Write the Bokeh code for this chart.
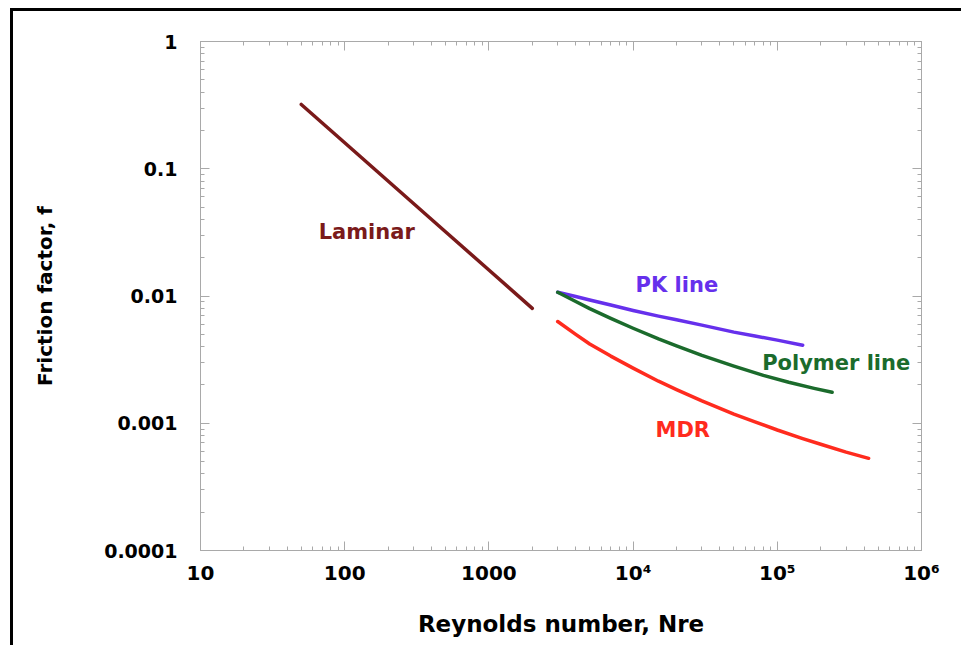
from bokeh.plotting import figure
from bokeh.models import LogAxis, FixedTicker, ColumnDataSource
from bokeh.core.properties import value
from bokeh.embed import file_html
from bokeh.resources import INLINE

# ---- data ----
laminar_re = [50, 100, 500, 1000, 2000]
laminar_f = [0.32, 0.16, 0.032, 0.016, 0.008]

pk_re = [3000, 4000, 5000, 7000, 10000, 15000, 20000, 30000, 50000, 70000, 100000, 150000]
pk_f = [0.0107, 0.0099, 0.0093, 0.0085, 0.0077, 0.00695, 0.0065, 0.0059, 0.0052, 0.00485, 0.0045, 0.0041]

polymer_re = [3000, 4000, 5000, 7000, 10000, 15000, 20000, 30000, 50000, 80000, 120000, 180000, 240000]
polymer_f = [0.0107, 0.00905, 0.00795, 0.00668, 0.00558, 0.0046, 0.00405, 0.00341, 0.00281, 0.00238, 0.0021, 0.00188, 0.00175]

mdr_re = [3000, 4000, 5000, 7000, 10000, 15000, 20000, 30000, 50000, 70000, 100000, 150000, 200000, 300000, 430000]
mdr_f = [0.0063, 0.0050, 0.0042, 0.00337, 0.00271, 0.00214, 0.00184, 0.0015, 0.00118, 0.001025, 0.000885, 0.000758, 0.000684, 0.000593, 0.00053]

label_names = ["Laminar", "PK line", "Polymer line", "MDR"]
label_re = [66, 10400, 78500, 14300]
label_f = [0.0316, 0.0123, 0.00297, 0.000893]

x_major = [10, 100, 1000, 10000, 100000, 1000000]
x_tick_labels = ["10", "100", "1000", "10\u2074", "10\u2075", "10\u2076"]
y_major = [0.0001, 0.001, 0.01, 0.1, 1]
y_tick_labels = ["0.0001", "0.001", "0.01", "0.1", "1"]

x_minor = [m * d for d in [10, 100, 1000, 10000, 100000] for m in range(2, 10)]
y_minor = [m * d for d in [0.0001, 0.001, 0.01, 0.1] for m in range(2, 10)]

# ---- style ----
FONT = "DejaVu Sans"
AX_GRAY = "#a9a9a9"
C_LAM = "#7a1a1a"
C_PK = "#6630ec"
C_POLY = "#1b6b2c"
C_MDR = "#ff2b1e"

W, H = 951, 637
p = figure(width=W, height=H, x_axis_type="log", y_axis_type="log",
           x_range=(10, 1e6), y_range=(1e-4, 1),
           output_backend="svg", toolbar_location=None,
           min_border_left=187, min_border_right=43,
           min_border_top=30, min_border_bottom=98)
p.styles = {"margin-left": "10px", "margin-top": "8px",
            "border-left": "3px solid black", "border-top": "3px solid black"}
p.xgrid.visible = False
p.ygrid.visible = False
p.outline_line_color = AX_GRAY
p.background_fill_color = "white"
p.border_fill_color = "white"

xt = FixedTicker(ticks=x_major, minor_ticks=x_minor)
yt = FixedTicker(ticks=y_major, minor_ticks=y_minor)

def style_axis(ax, size="20px"):
    ax.axis_line_color = AX_GRAY
    ax.major_tick_line_color = AX_GRAY
    ax.minor_tick_line_color = AX_GRAY
    ax.major_tick_in = 9
    ax.major_tick_out = 0
    ax.minor_tick_in = 4
    ax.minor_tick_out = 0
    ax.major_label_text_font = FONT
    ax.major_label_text_font_style = "bold"
    ax.major_label_text_font_size = size
    ax.major_label_text_color = "black"
    ax.axis_label_text_font = FONT
    ax.axis_label_text_font_style = "bold"
    ax.axis_label_text_color = "black"

xa = p.xaxis[0]
xa.ticker = xt
style_axis(xa, "20px")
xa.major_label_overrides = {t: s for t, s in zip(x_major, x_tick_labels)}
xa.major_label_standoff = 10
xa.axis_label = "Reynolds number, Nre"
xa.axis_label_text_font_size = "23px"
xa.axis_label_standoff = 23

ya = p.yaxis[0]
ya.ticker = yt
style_axis(ya, "19px")
ya.major_label_overrides = {t: s for t, s in zip(y_major, y_tick_labels)}
ya.major_label_standoff = 23
ya.axis_label = "Friction factor, f"
ya.axis_label_text_font_size = "20px"
ya.axis_label_standoff = 44

top = LogAxis(ticker=FixedTicker(ticks=x_major, minor_ticks=x_minor))
style_axis(top)
top.major_label_overrides = {t: "" for t in x_major}
p.add_layout(top, "above")
right = LogAxis(ticker=FixedTicker(ticks=y_major, minor_ticks=y_minor))
style_axis(right)
right.major_label_overrides = {t: "" for t in y_major}
p.add_layout(right, "right")

p.line(laminar_re, laminar_f, line_color=C_LAM, line_width=3.5, line_cap="round")
p.line(pk_re, pk_f, line_color=C_PK, line_width=3.5, line_cap="round", line_join="round")
p.line(polymer_re, polymer_f, line_color=C_POLY, line_width=3.5, line_cap="round", line_join="round")
p.line(mdr_re, mdr_f, line_color=C_MDR, line_width=3.5, line_cap="round", line_join="round")

src = ColumnDataSource(dict(x=label_re, y=label_f, text=label_names,
                            color=[C_LAM, C_PK, C_POLY, C_MDR]))
p.text(x="x", y="y", text="text", source=src, text_color="color",
       text_font=value(FONT), text_font_style="bold", text_font_size="21px",
       text_align="left", text_baseline="middle")

open("out.html", "w").write(file_html(p, INLINE))
